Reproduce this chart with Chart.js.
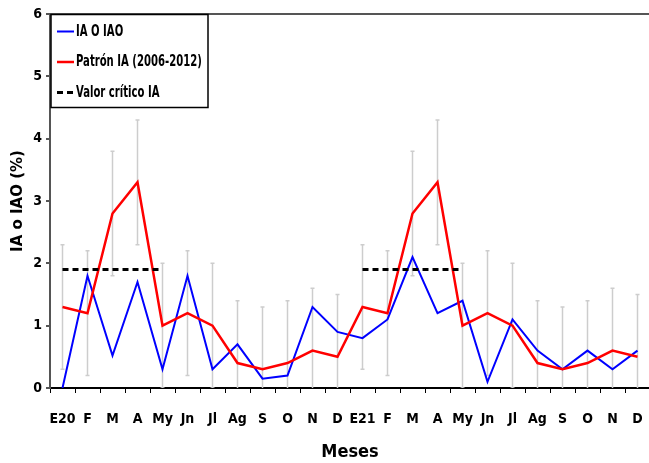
<!DOCTYPE html>
<html>
<head>
<meta charset="utf-8">
<script src="https://cdn.jsdelivr.net/npm/chart.js@4.4.0/dist/chart.umd.min.js"></script>
<style>
    html, body { margin: 0; padding: 0; background: #fff; overflow: hidden; }
    #wrap { width: 649px; height: 463px; overflow: hidden; }
</style>
</head>
<body>
<div id="wrap"><canvas id="iaChart" width="650" height="463"></canvas></div>
<script>
// Data
const months = ['E20', 'F', 'M', 'A', 'My', 'Jn', 'Jl', 'Ag', 'S', 'O', 'N', 'D',
                'E21', 'F', 'M', 'A', 'My', 'Jn', 'Jl', 'Ag', 'S', 'O', 'N', 'D'];

const iaValues = [0, 1.8, 0.52, 1.7, 0.3, 1.8, 0.3, 0.7, 0.15, 0.2, 1.3, 0.9,
                  0.8, 1.1, 2.1, 1.2, 1.4, 0.1, 1.1, 0.6, 0.3, 0.6, 0.3, 0.6];

const patronValues = [1.3, 1.2, 2.8, 3.3, 1.0, 1.2, 1.0, 0.4, 0.3, 0.4, 0.6, 0.5,
                      1.3, 1.2, 2.8, 3.3, 1.0, 1.2, 1.0, 0.4, 0.3, 0.4, 0.6, 0.5];

// error bars around the pattern (upper / lower ends)
const errorHigh = [2.3, 2.2, 3.8, 4.3, 2.0, 2.2, 2.0, 1.4, 1.3, 1.4, 1.6, 1.5,
                   2.3, 2.2, 3.8, 4.3, 2.0, 2.2, 2.0, 1.4, 1.3, 1.4, 1.6, 1.5];
const errorLow = [0.3, 0.2, 1.8, 2.3, 0.0, 0.2, 0.0, -0.6, -0.7, -0.6, -0.4, -0.5,
                  0.3, 0.2, 1.8, 2.3, 0.0, 0.2, 0.0, -0.6, -0.7, -0.6, -0.4, -0.5];

const criticalValues = [1.9, 1.9, 1.9, 1.9, 1.9, null, null, null, null, null, null, null,
                        1.9, 1.9, 1.9, 1.9, 1.9, null, null, null, null, null, null, null];

const yTicks = [0, 1, 2, 3, 4, 5, 6];

const NARROW = "'Liberation Sans Narrow', 'DejaVu Sans Condensed', sans-serif";

// gray error bars, drawn under the lines
const errorBars = {
    id: 'errorBars',
    beforeDatasetsDraw(chart) {
        const { ctx, chartArea, scales: { x, y } } = chart;
        ctx.save();
        ctx.beginPath();
        ctx.rect(chartArea.left, chartArea.top, chartArea.width, chartArea.height);
        ctx.clip();
        ctx.strokeStyle = '#cdcdcd';
        ctx.lineWidth = 1.5;
        errorHigh.forEach((hi, i) => {
            const px = x.getPixelForValue(i);
            const top = y.getPixelForValue(hi);
            const bot = y.getPixelForValue(errorLow[i]);
            ctx.beginPath();
            ctx.moveTo(px, top); ctx.lineTo(px, bot);
            ctx.moveTo(px - 2, top); ctx.lineTo(px + 2, top);
            ctx.moveTo(px - 2, bot); ctx.lineTo(px + 2, bot);
            ctx.stroke();
        });
        ctx.restore();
    }
};

// boxed legend in the top-left corner of the plot
const boxLegend = {
    id: 'boxLegend',
    afterDraw(chart) {
        const { ctx, chartArea } = chart;
        const x0 = chartArea.left + 1, y0 = chartArea.top + 0.5;
        const w = 157, h = 93;
        ctx.save();
        ctx.fillStyle = '#fff';
        ctx.fillRect(x0, y0, w, h);
        ctx.strokeStyle = '#000';
        ctx.lineWidth = 1.5;
        ctx.strokeRect(x0, y0, w, h);
        ctx.font = "bold 16px " + NARROW;
        ctx.textBaseline = 'middle';
        ctx.fillStyle = '#000';
        // squeeze text horizontally, the original font is very condensed
        const squeeze = 0.7;
        chart.data.datasets.forEach((ds, i) => {
            const cy = y0 + 17 + i * 30.5;
            ctx.strokeStyle = ds.borderColor;
            ctx.lineWidth = ds.borderWidth;
            ctx.setLineDash(ds.borderDash || []);
            ctx.beginPath();
            ctx.moveTo(x0 + 6, cy);
            ctx.lineTo(x0 + 23, cy);
            ctx.stroke();
            ctx.setLineDash([]);
            ctx.save();
            ctx.translate(x0 + 25, cy);
            ctx.scale(squeeze, 1);
            ctx.fillText(ds.label, 0, 0);
            ctx.restore();
        });
        ctx.restore();
    }
};

new Chart(document.getElementById('iaChart'), {
    type: 'line',
    data: {
        labels: months,
        datasets: [
            {
                label: 'IA O IAO',
                data: iaValues,
                borderColor: '#0000ff',
                borderWidth: 2,
                pointRadius: 0,
                tension: 0,
                order: 2
            },
            {
                label: 'Patrón IA (2006-2012)',
                data: patronValues,
                borderColor: '#ff0000',
                borderWidth: 2.5,
                pointRadius: 0,
                tension: 0,
                order: 1
            },
            {
                label: 'Valor crítico IA',
                data: criticalValues,
                borderColor: '#000000',
                borderWidth: 3,
                borderDash: [6, 4],
                pointRadius: 0,
                spanGaps: false,
                order: 0
            }
        ]
    },
    options: {
        responsive: false,
        animation: false,
        layout: { padding: { top: 14, left: 0, right: 0, bottom: 0 } },
        plugins: {
            legend: { display: false },
            tooltip: { enabled: false }
        },
        scales: {
            x: {
                type: 'category',
                offset: true,
                grid: { offset: true, drawOnChartArea: false, drawTicks: true, tickLength: 5, color: '#000' },
                border: { color: '#000', width: 2 },
                ticks: {
                    font: { family: NARROW, size: 14, weight: 'bold' },
                    color: '#000',
                    padding: 18,
                    maxRotation: 0,
                    autoSkip: false
                },
                title: {
                    display: true,
                    text: 'Meses',
                    font: { family: NARROW, size: 18, weight: 'bold' },
                    color: '#000',
                    padding: 0
                },
                afterFit: (scale) => {
                    scale.height = 75;
                    scale.paddingLeft = 0;
                    scale.paddingRight = 0;
                }
            },
            y: {
                min: 0,
                max: 6,
                afterBuildTicks: (scale) => { scale.ticks = yTicks.map(v => ({ value: v })); },
                grid: {
                    color: (c) => (c.tick && c.tick.value === 6 ? '#555' : 'rgba(0,0,0,0)'),
                    lineWidth: 2,
                    drawTicks: true,
                    tickLength: 4,
                    tickColor: '#555'
                },
                border: { color: '#555', width: 2 },
                ticks: {
                    font: { family: NARROW, size: 14, weight: 'bold' },
                    color: '#000',
                    padding: 4
                },
                title: {
                    display: true,
                    text: 'IA o IAO (%)',
                    font: { family: "'DejaVu Sans', sans-serif", size: 15, weight: 'bold' },
                    color: '#000',
                    padding: { top: 9, bottom: 0 }
                },
                afterFit: (scale) => { scale.width = 50; }
            }
        }
    },
    plugins: [errorBars, boxLegend]
});
</script>
</body>
</html>
